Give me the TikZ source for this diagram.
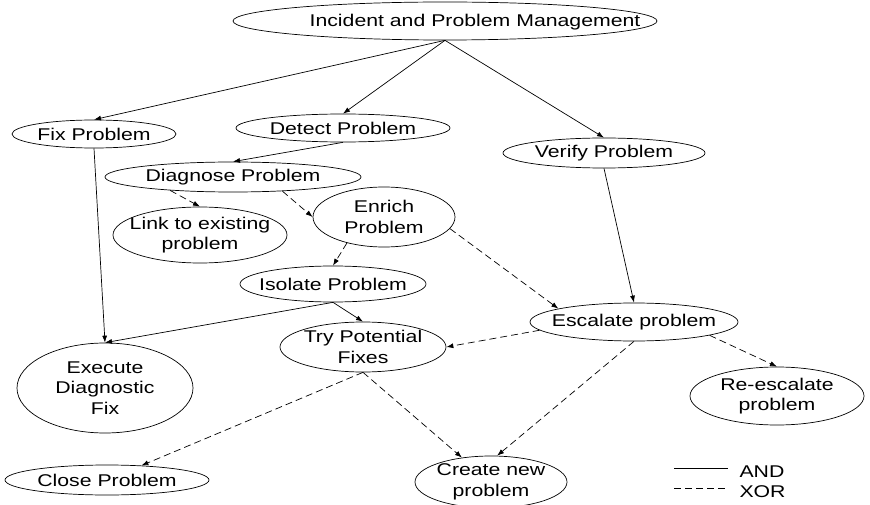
\documentclass[tikz,border=0pt]{standalone}
\usepackage{fontspec}
\setmainfont{Liberation Sans}[FakeStretch=1.25]
\usetikzlibrary{shapes.geometric,arrows.meta}

\begin{document}
\begin{tikzpicture}[x=1pt,y=-1pt,font=\fontsize{17pt}{20.5pt}\selectfont,
  task/.style={draw,ellipse,inner sep=-15pt,align=center,line width=0.7pt},
  andline/.style={-{Latex[length=7pt,width=5pt]},line width=0.7pt},
  xorline/.style={andline,dash pattern=on 7pt off 4pt}]
\useasboundingbox (0,0) rectangle (870,505);

\node[task,minimum width=424,minimum height=38] (top) at (445,21) {};
\node (toptxt) at (475,22) {Incident and Problem Management};

\node[task,minimum width=164,minimum height=28] (fix) at (94,134) {Fix Problem};
\node[task,minimum width=214,minimum height=28] (detect) at (343,128) {Detect Problem};
\node[task,minimum width=202,minimum height=30] (verify) at (604,153) {Verify Problem};
\node[task,minimum width=256,minimum height=30] (diagnose) at (233,177) {Diagnose Problem};
\node[task,minimum width=174,minimum height=56] (link) at (200,235) {Link to existing\\problem};
\node[task,minimum width=142,minimum height=60] (enrich) at (384,217) {Enrich\\Problem};
\node[task,minimum width=186,minimum height=36] (isolate) at (333,284) {Isolate Problem};
\node[task,minimum width=166,minimum height=50] (try) at (363,347) {Try Potential\\Fixes};
\node[task,minimum width=176,minimum height=90] (execute) at (105,388) {Execute\\Diagnostic\\Fix};
\node[task,minimum width=204,minimum height=30] (close) at (107,480) {Close Problem};
\node[task,minimum width=208,minimum height=38] (escalate) at (634,322) {Escalate problem};
\node[task,minimum width=174,minimum height=58] (reesc) at (777,396) {Re-escalate\\problem};
\node[task,minimum width=152,minimum height=52] (create) at (491,482) {Create new\\problem};

\draw[andline] (top.south) -- (fix.north);
\draw[andline] (top.south) -- (detect.north);
\draw[andline] (top.south) -- (verify.north);
\draw[andline] (detect.south) -- (diagnose.north);
\draw[andline] (fix.south) -- (execute.north);
\draw[andline] (verify.south) -- (escalate.north);
\draw[xorline] (diagnose.192) -- (link.north);
\draw[xorline] (diagnose.344) -- (enrich.west);
\draw[xorline] (enrich.215) -- (isolate.north);
\draw[xorline] (enrich.-10) -- (escalate.170);
\draw[andline] (isolate.south) -- (execute.north);
\draw[andline] (isolate.south) -- (try.north);
\draw[xorline] (escalate.185) -- (try.east);
\draw[xorline] (escalate.-10) -- (reesc.north);
\draw[xorline] (escalate.south) -- (create.77);
\draw[xorline] (try.south) -- (create.140);
\draw[xorline] (try.south) -- (close);

\coordinate (andA) at (674,468);
\coordinate (andB) at (728,468);
\coordinate (xorA) at (674,488);
\coordinate (xorB) at (728,488);
\draw[line width=0.7pt] (andA) -- (andB);
\draw[line width=0.7pt,dash pattern=on 7pt off 4pt] (xorA) -- (xorB);
\node[anchor=west] (andtxt) at (736,472) {AND};
\node[anchor=west] (xortxt) at (736,492) {XOR};
\end{tikzpicture}
\end{document}
